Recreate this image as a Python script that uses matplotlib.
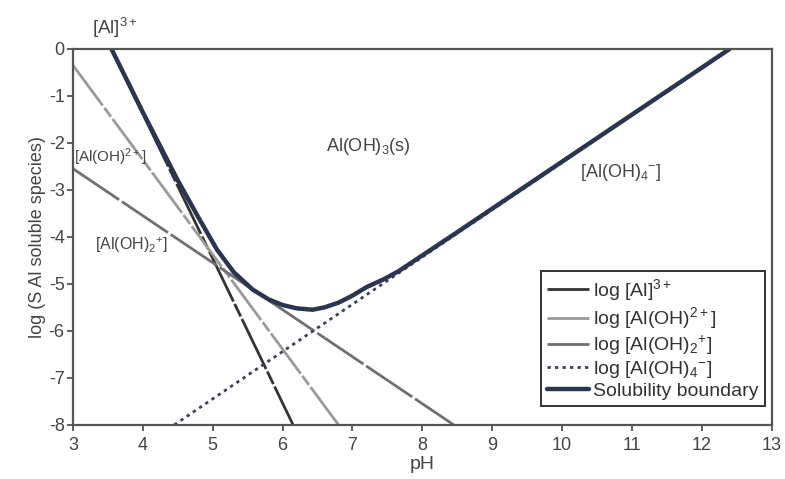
import matplotlib
matplotlib.use('Agg')
import matplotlib.pyplot as plt

plt.rcParams['font.family'] = ['Liberation Sans', 'DejaVu Sans']
plt.rcParams['mathtext.fontset'] = 'custom'
plt.rcParams['mathtext.rm'] = 'Liberation Sans'
plt.rcParams['mathtext.it'] = 'Liberation Sans'
plt.rcParams['axes.unicode_minus'] = False

# species lines, end points (pH, log conc.)
ph_al3 = [3.55, 6.15]
log_al3 = [0.0, -8.0]
ph_aloh = [3.0, 6.8]
log_aloh = [-0.35, -8.0]
ph_aloh2 = [3.0, 8.45]
log_aloh2 = [-2.55, -8.0]
ph_aloh4 = [4.45, 12.4]
log_aloh4 = [-8.0, 0.0]

# solubility boundary, read point by point
ph_bound = [3.55, 4.0, 4.5, 4.8, 5.06, 5.3, 5.57, 5.8, 6.0, 6.2, 6.43, 6.6,
            6.8, 7.0, 7.2, 7.45, 7.66, 8.5, 10.0, 12.4]
log_bound = [0.0, -1.35, -2.8, -3.6, -4.27, -4.75, -5.12, -5.33, -5.45, -5.52,
             -5.55, -5.5, -5.4, -5.25, -5.07, -4.9, -4.73, -3.9, -2.4, 0.0]

xticks = list(range(3, 14))
yticks = list(range(-8, 1))

fig = plt.figure(figsize=(7.85, 4.79), dpi=100)
ax = fig.add_axes([0.093, 0.113, 0.890, 0.785])

ax.plot(ph_al3, log_al3, color='#333333', lw=2.0, ls=(0, (20, 1, 5, 1)),
        label='log [Al]$^{3+}$')
ax.plot(ph_aloh, log_aloh, color='#9a9a9a', lw=2.0, ls=(0, (18, 1, 4, 1)),
        label='log [Al(OH)$^{2+}$]')
ax.plot(ph_aloh2, log_aloh2, color='#707070', lw=2.0, ls=(0, (20, 1.2)),
        label='log [Al(OH)$_2$$^{+}$]')
ax.plot(ph_aloh4, log_aloh4, color='#3a4458', lw=2.0, ls=(0, (1.2, 1.5)),
        label='log [Al(OH)$_4$$^{-}$]')
ax.plot(ph_bound, log_bound, color='#2b3550', lw=3.2, solid_capstyle='round',
        label='Solubility boundary')

ax.set_xlim(3, 13)
ax.set_ylim(-8, 0)
ax.set_xticks(xticks)
ax.set_yticks(yticks)
ax.tick_params(labelsize=13, colors='#444444', length=4, width=1.2, pad=2)
ax.tick_params(axis='x', pad=5)
ax.set_xlabel('pH', fontsize=14, color='#444444', labelpad=1)
ax.set_ylabel('log (S Al soluble species)', fontsize=13, color='#444444', labelpad=2)
for spine in ax.spines.values():
    spine.set_color('#555555')
    spine.set_linewidth(1.6)

c = '#444444'
ax.text(3.6, 0.44, '[Al]$^{3+}$', fontsize=13.5, color=c, ha='center', va='center',
        clip_on=False)
ax.text(3.02, -2.3, '[Al(OH)$^{2+}$]', fontsize=11, color=c, ha='left', va='center')
ax.text(3.31, -4.18, '[Al(OH)$_2$$^{+}$]', fontsize=11.5, color=c, ha='left', va='center')
ax.text(7.23, -2.08, 'Al(OH)$_3$(s)', fontsize=13, color=c, ha='center', va='center')
ax.text(10.84, -2.64, '[Al(OH)$_4$$^{-}$]', fontsize=13, color=c, ha='center', va='center')

leg = ax.legend(loc='lower right', bbox_to_anchor=(0.99, 0.05), fontsize=14,
                handlelength=2.2, handletextpad=0.2, labelspacing=0.12,
                borderpad=0.3, borderaxespad=0, fancybox=False, framealpha=1)
leg.get_frame().set_edgecolor('#333333')
leg.get_frame().set_linewidth(1.4)
for t in leg.get_texts():
    t.set_color('#333333')

fig.savefig('out.png', dpi=100, facecolor='white')
